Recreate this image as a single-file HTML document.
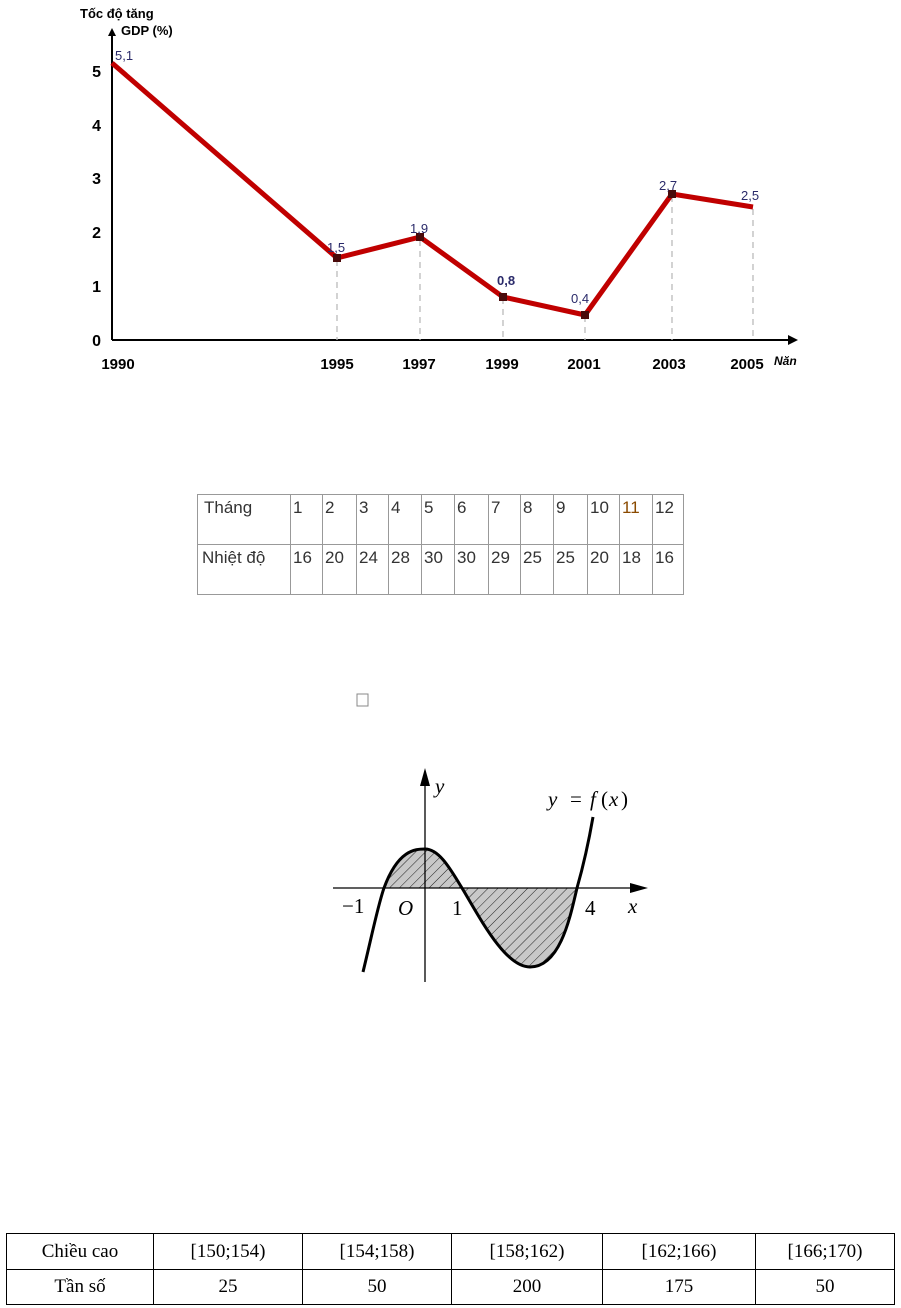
<!DOCTYPE html>
<html><head><meta charset="utf-8"><style>
body{margin:0;width:901px;height:1308px;background:#fff;position:relative;overflow:hidden}
svg{position:absolute;left:0;top:0}
table{position:absolute;border-collapse:collapse}
.t2 td{border:1.5px solid #999;vertical-align:top;padding:3px 2px;overflow:hidden;white-space:nowrap}
</style></head><body>
<svg width="901" height="1308" viewBox="0 0 901 1308">
<defs>
<pattern id="h" patternUnits="userSpaceOnUse" width="7" height="7" patternTransform="rotate(45)">
<rect width="7" height="7" fill="#c8c8c8"/><line x1="0" y1="0" x2="0" y2="7" stroke="#222" stroke-width="1"/>
</pattern>
<clipPath id="c"><rect x="300" y="700" width="400" height="300"/></clipPath>
</defs>
<g font-family="Liberation Sans, sans-serif">
<text x="80" y="18" font-size="13" font-weight="bold">Tốc độ tăng</text>
<text x="121" y="35" font-size="13" font-weight="bold">GDP (%)</text>
<line x1="112" y1="340" x2="112" y2="34" stroke="#000" stroke-width="2"/>
<polygon points="108,36 112,28 116,36" fill="#000"/>
<line x1="112" y1="340" x2="790" y2="340" stroke="#000" stroke-width="2"/>
<polygon points="788,335 798,340 788,345" fill="#000"/>
<g font-size="16" font-weight="bold" text-anchor="end">
<text x="101" y="346">0</text><text x="101" y="292">1</text><text x="101" y="238">2</text>
<text x="101" y="184">3</text><text x="101" y="131">4</text><text x="101" y="77">5</text>
</g>
<g stroke="#bbb" stroke-dasharray="6,5" stroke-width="1.3">
<line x1="337" y1="260" x2="337" y2="340"/><line x1="420" y1="240" x2="420" y2="340"/>
<line x1="503" y1="298" x2="503" y2="340"/><line x1="585" y1="316" x2="585" y2="340"/>
<line x1="672" y1="196" x2="672" y2="340"/><line x1="753" y1="209" x2="753" y2="340"/>
</g>
<polyline points="112,63 337,258 420,237 503,297 585,315 672,194 753,207" fill="none" stroke="#c00000" stroke-width="5" stroke-linejoin="round"/>
<g fill="#4a0a0a"><rect x="333" y="254" width="8" height="8"/><rect x="416" y="233" width="8" height="8"/><rect x="499" y="293" width="8" height="8"/><rect x="581" y="311" width="8" height="8"/><rect x="668" y="190" width="8" height="8"/></g>
<g font-size="13" fill="#2a2a6a">
<text x="115" y="60">5,1</text><text x="327" y="252">1,5</text><text x="410" y="233">1,9</text>
<text x="497" y="285" font-weight="bold">0,8</text><text x="571" y="303">0,4</text><text x="659" y="190">2,7</text><text x="741" y="200">2,5</text>
</g>
<g font-size="15" font-weight="bold" text-anchor="middle">
<text x="118" y="369">1990</text><text x="337" y="369">1995</text><text x="419" y="369">1997</text>
<text x="502" y="369">1999</text><text x="584" y="369">2001</text><text x="669" y="369">2003</text><text x="747" y="369">2005</text>
</g>
<text x="774" y="365" font-size="12" font-style="italic" font-weight="bold">Năn</text>
</g>
<rect x="357" y="694" width="11" height="12" fill="none" stroke="#888" stroke-width="1"/>
<g clip-path="url(#c)">
<path d="M384,888 C398,850 415,849 425,849 C440,849 452,872 462,888 Z" fill="url(#h)"/>
<path d="M462,888 C480,918 505,967 530,967 C560,967 570,918 577,888 Z" fill="url(#h)"/>
</g>
<line x1="333" y1="888" x2="638" y2="888" stroke="#000" stroke-width="1.3"/>
<polygon points="630,883 648,888 630,893" fill="#000"/>
<line x1="425" y1="982" x2="425" y2="778" stroke="#000" stroke-width="1.3"/>
<polygon points="420,786 425,768 430,786" fill="#000"/>
<path d="M363,972 C372,935 378,905 384,888 C398,850 415,849 425,849 C440,849 452,872 462,888 C480,918 505,967 530,967 C560,967 570,918 577,888 C585,860 589,840 593,817" fill="none" stroke="#000" stroke-width="3"/>
<g font-family="Liberation Serif, serif" font-size="21" font-style="italic">
<text x="435" y="793">y</text><text x="548" y="806">y</text><text x="628" y="913">x</text><text x="398" y="915">O</text>
<text x="570" y="806" font-style="normal">= </text><text x="590" y="806">f</text><text x="601" y="806" font-style="normal">(</text><text x="609" y="806">x</text><text x="621" y="806" font-style="normal">)</text>
</g>
<g font-family="Liberation Serif, serif" font-size="21">
<text x="342" y="913">−1</text><text x="452" y="915">1</text><text x="585" y="915">4</text>
</g>
</svg>
<table class="t2" style="left:197px;top:494px;width:486px;height:100px;table-layout:fixed;font-family:'Liberation Sans','DejaVu Sans',sans-serif;font-size:17px;color:#333">
<colgroup><col style="width:93px"><col style="width:32px"><col style="width:34px"><col style="width:32px"><col style="width:33px"><col style="width:33px"><col style="width:34px"><col style="width:32px"><col style="width:33px"><col style="width:34px"><col style="width:32px"><col style="width:33px"><col style="width:31px"></colgroup>
<tr style="height:50px">
<td style="padding-left:6px">Tháng</td>
<td>1</td><td>2</td><td>3</td><td>4</td><td>5</td><td>6</td><td>7</td><td>8</td><td>9</td><td>10</td><td style="color:#8a4a00">11</td><td>12</td></tr>
<tr style="height:50px">
<td style="padding-left:4px">Nhiệt độ</td>
<td>16</td><td>20</td><td>24</td><td>28</td><td>30</td><td>30</td><td>29</td><td>25</td><td>25</td><td>20</td><td>18</td><td>16</td></tr>
</table>
<table style="left:6px;top:1233px;width:889px;height:71px;font-family:'Liberation Serif',serif;font-size:19px;text-align:center">
<tr style="height:36px"><td style="border:1.5px solid #000;width:144px">Chiều cao</td><td style="border:1.5px solid #000;width:146px">[150;154)</td><td style="border:1.5px solid #000;width:146px">[154;158)</td><td style="border:1.5px solid #000;width:148px">[158;162)</td><td style="border:1.5px solid #000;width:150px">[162;166)</td><td style="border:1.5px solid #000">[166;170)</td></tr>
<tr style="height:35px"><td style="border:1.5px solid #000">Tần số</td><td style="border:1.5px solid #000">25</td><td style="border:1.5px solid #000">50</td><td style="border:1.5px solid #000">200</td><td style="border:1.5px solid #000">175</td><td style="border:1.5px solid #000">50</td></tr>
</table>
</body></html>
